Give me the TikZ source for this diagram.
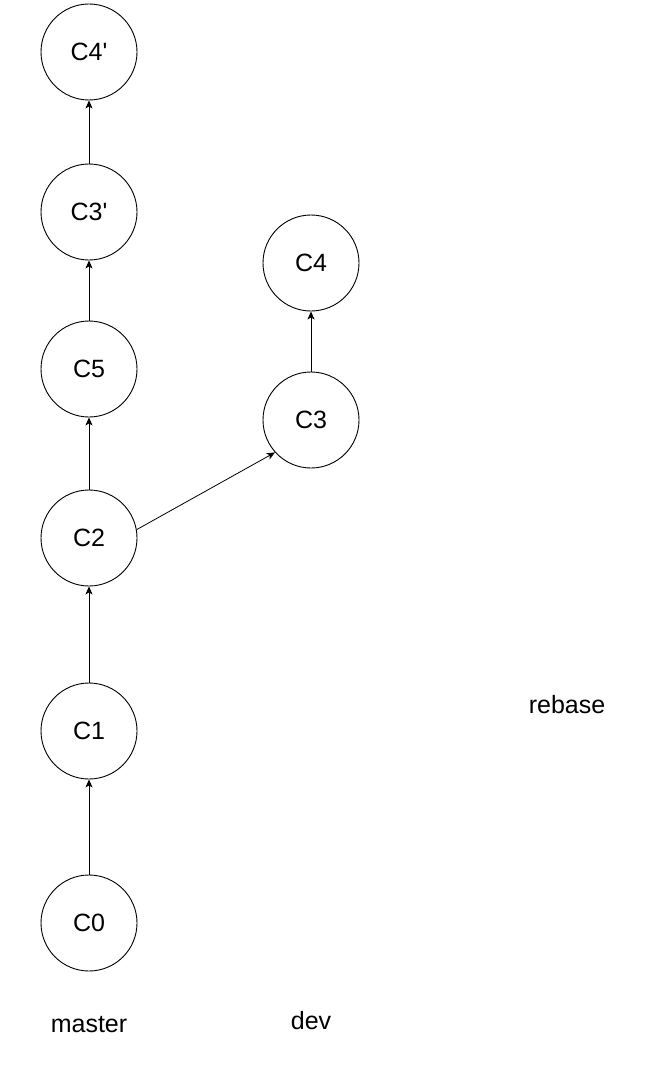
\documentclass[tikz,border=0pt]{standalone}
\usepackage{fontspec}
\setmainfont{Liberation Sans}
\usetikzlibrary{arrows.meta}
\begin{document}
\begin{tikzpicture}[x=1pt,y=-1pt,
  commit/.style={circle,draw,line width=0.9pt,minimum size=96pt,inner sep=0pt,font=\fontsize{25}{30}\selectfont},
  lbl/.style={font=\fontsize{25}{30}\selectfont,inner sep=0pt},
  edge/.style={line width=0.8pt,-{Stealth[length=8pt,width=7pt,inset=2pt]}}]
\useasboundingbox (0,0) rectangle (650,1070);
\node[commit] (C4p) at (89,52) {C4\textquotesingle};
\node[commit] (C3p) at (89,212) {C3\textquotesingle};
\node[commit] (C5) at (89,369) {C5};
\node[commit] (C2) at (89,538) {C2};
\node[commit] (C1) at (89,731) {C1};
\node[commit] (C0) at (89,923) {C0};
\node[commit] (C4) at (311,263) {C4};
\node[commit] (C3) at (311,420) {C3};
\node[lbl] (master) at (89,1025) {master};
\node[lbl] (dev) at (311,1021) {dev};
\node[lbl] (rebase) at (567,705) {rebase};
\draw[edge] (C0) -- (C1);
\draw[edge] (C1) -- (C2);
\draw[edge] (C2) -- (C5);
\draw[edge] (C5) -- (C3p);
\draw[edge] (C3p) -- (C4p);
\draw[edge] (C3) -- (C4);
\draw[edge] (C2.10) -- (C3.222);
\end{tikzpicture}
\end{document}
